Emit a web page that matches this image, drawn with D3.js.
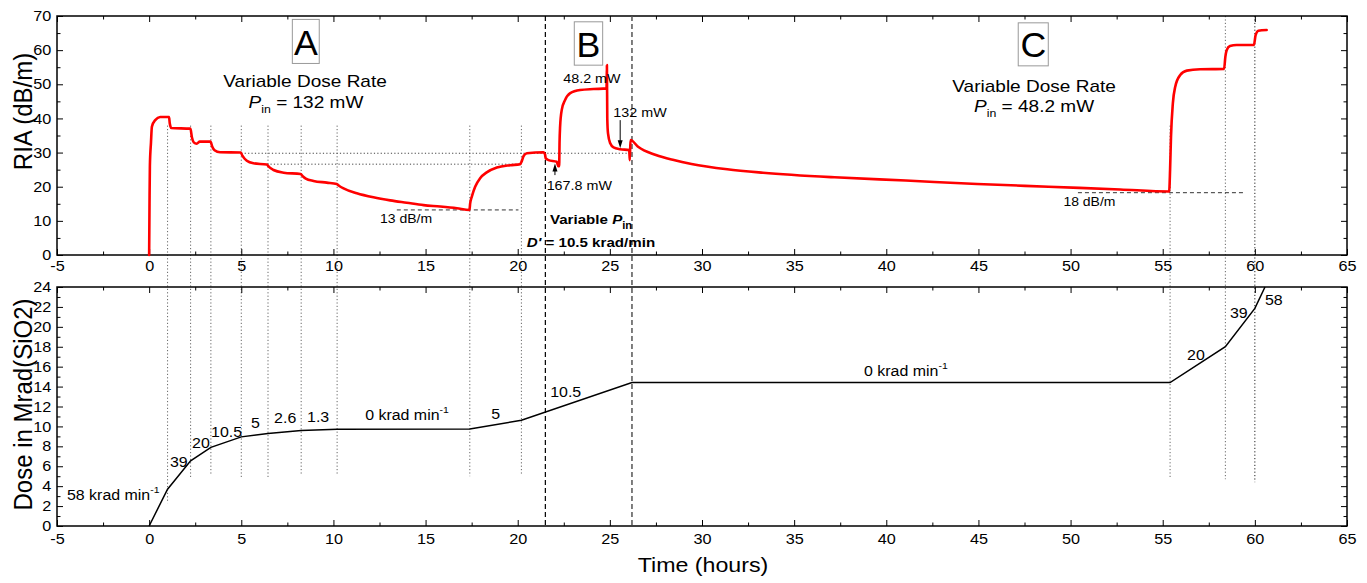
<!DOCTYPE html>
<html><head><meta charset="utf-8">
<script src="https://cdn.jsdelivr.net/npm/d3@7"></script>
<style>
body{margin:0;background:#fff;}
text{font-family:"Liberation Sans",Arial,Helvetica,sans-serif;fill:#000;}
</style>
</head><body>
<svg id="chart" width="1367" height="583"></svg>
<script>
// ---------------- DATA ----------------
const xTicks = [-5,0,5,10,15,20,25,30,35,40,45,50,55,60,65];
const riaTicks = [0,10,20,30,40,50,60,70];
const doseTicks = [0,2,4,6,8,10,12,14,16,18,20,22,24];

// RIA (dB/m) vs time (hours)
const riaTime = [0,0.02,0.04,0.1,0.15,0.33,0.6,1.08,1.12,1.2,2.24,2.32,2.42,2.58,2.75,3.33,3.42,3.55,3.85,4.97,
  5.05,5.3,5.66,6.38,6.5,6.75,7.3,8.22,8.35,8.5,8.92,9.64,10.18,10.3,10.55,11.27,12.17,13.08,13.98,14.89,15.79,16.7,17.38,
  17.42,17.51,17.69,17.96,18.32,18.87,19.59,20.13,20.22,20.32,20.5,21.4,21.48,21.52,21.67,22.12,22.2,22.25,
  22.27,22.3,22.39,22.57,22.85,23.39,24.11,24.82,24.84,24.86,24.9,25.02,25.2,25.56,26.05,26.08,26.12,
  26.53,27.5,28.47,29.43,31.37,33.31,37.19,41.06,44.93,48.81,52.69,55.35,
  55.4,55.45,55.55,55.68,55.95,56.31,57.03,58.33,58.4,58.47,58.65,59.01,59.95,60.04,60.19,60.64];
const riaValue = [0,15,26,33,37.6,39.5,40.4,40.4,38.5,37.2,37.0,34.5,33.0,32.6,33.2,33.2,31.8,30.7,30.1,30.0,
  29.2,27.6,26.85,26.5,25.8,24.9,24.1,23.7,23.0,22.4,21.7,21.2,20.8,20.3,19.5,18.1,16.9,16.0,15.3,14.6,14.2,13.7,13.2,
  15.1,17.1,20.0,22.5,24.2,25.6,26.3,26.6,27.5,29.0,29.8,30.1,29.5,28.3,27.8,27.3,26.0,26.0,
  33,37.6,42.5,45.4,47.4,48.3,48.6,48.8,55.6,40,35.6,32.7,31.5,31.0,30.75,27.8,33.7,
  31.7,29.3,27.8,26.65,25.1,24.1,22.75,21.8,20.8,20.0,19.2,18.6,
  25,34.7,44.4,49.3,52.7,54.0,54.4,54.5,58.1,60.0,61.2,61.5,61.5,64.4,65.7,65.9];

// Accumulated dose (Mrad(SiO2)) vs time (hours)
const doseTime  = [0,1.0,2.25,3.35,5.0,6.45,8.25,10.2,17.4,20.2,26.2,55.4,58.4,60.0,60.55];
const doseValue = [0,3.7,6.55,7.9,8.95,9.3,9.6,9.72,9.75,10.62,14.4,14.4,18.0,21.85,24];

// Dose-rate labels (krad/min) for each segment
const rateText = ["58 krad min","39","20","10.5","5","2.6","1.3","0 krad min","5","10.5","0 krad min","20","39","58"];
const rateSup  = ["-1","","","","","","","-1","","","-1","","",""];

// Times where dose rate changes (dotted guides)
const eventTimes = [1.0,2.25,3.35,5.0,6.45,8.25,10.2,17.4,20.2,55.4,58.4,60.0];
// Input power phases boundaries (dashed)
const phaseTimes = [21.5, 26.2];

// ---------------- LAYOUT ----------------
const S = 1.12; // horizontal text stretch
const svg = d3.select("#chart");
const L = 57, R = 1347;
const T1 = 16, B1 = 255, T2 = 287, B2 = 526;
const x = d3.scaleLinear([-5,65],[L,R]);
const yT = d3.scaleLinear([0,70],[B1,T1]);
const yB = d3.scaleLinear([0,24],[B2,T2]);

const xMinor = d3.range(-2.5, 65, 5);
const riaMinor = d3.range(5, 70, 10);
const doseMinor = d3.range(1, 24, 2);
const plain = d => String(d);

function styleTicks(g, size){
  g.select(".domain").remove();
  g.selectAll(".tick line").attr("stroke","#000").attr("stroke-width",1);
  g.selectAll(".tick text").attr("font-size",size).attr("font-family","Liberation Sans, Arial, sans-serif")
    .attr("transform",`scale(${S},1)`);
}

function panel(y, yMaj, yMin, top, bottom, labelPad){
  const g = svg.append("g");
  g.append("g").attr("transform",`translate(0,${bottom})`)
    .call(d3.axisBottom(x).tickValues(xTicks).tickSizeInner(-6).tickSizeOuter(0).tickPadding(labelPad).tickFormat(plain))
    .call(a=>styleTicks(a,14.5));
  g.append("g").attr("transform",`translate(0,${bottom})`)
    .call(d3.axisBottom(x).tickValues(xMinor).tickSizeInner(-3.5).tickSizeOuter(0).tickFormat(()=>""))
    .call(a=>styleTicks(a,14));
  g.append("g").attr("transform",`translate(0,${top})`)
    .call(d3.axisTop(x).tickValues(xTicks).tickSizeInner(-6).tickSizeOuter(0).tickFormat(()=>""))
    .call(a=>styleTicks(a,14));
  g.append("g").attr("transform",`translate(0,${top})`)
    .call(d3.axisTop(x).tickValues(xMinor).tickSizeInner(-3.5).tickSizeOuter(0).tickFormat(()=>""))
    .call(a=>styleTicks(a,14));
  g.append("g").attr("transform",`translate(${L},0)`)
    .call(d3.axisLeft(y).tickValues(yMaj).tickSizeInner(-6).tickSizeOuter(0).tickPadding(5.2).tickFormat(plain))
    .call(a=>styleTicks(a,14.5));
  g.append("g").attr("transform",`translate(${L},0)`)
    .call(d3.axisLeft(y).tickValues(yMin).tickSizeInner(-3.5).tickSizeOuter(0).tickFormat(()=>""))
    .call(a=>styleTicks(a,14));
  g.append("g").attr("transform",`translate(${R},0)`)
    .call(d3.axisRight(y).tickValues(yMaj).tickSizeInner(-6).tickSizeOuter(0).tickFormat(()=>""))
    .call(a=>styleTicks(a,14));
  g.append("g").attr("transform",`translate(${R},0)`)
    .call(d3.axisRight(y).tickValues(yMin).tickSizeInner(-3.5).tickSizeOuter(0).tickFormat(()=>""))
    .call(a=>styleTicks(a,14));
  g.append("rect").attr("x",L).attr("y",top).attr("width",R-L).attr("height",bottom-top)
    .attr("fill","none").attr("stroke","#000").attr("stroke-width",1.5);
}

// text helper
function txt(px, py, parts, o={}){
  const t = svg.append("text")
    .attr("transform",`translate(${px},${py}) scale(${o.sx||S},1)`)
    .attr("text-anchor",o.anchor||"start")
    .attr("font-size",o.size||14)
    .attr("font-weight",o.weight||"normal");
  parts.forEach(p=>{
    const ts = t.append("tspan").text(p.t);
    if(p.italic) ts.attr("font-style","italic");
    if(p.size) ts.attr("font-size",p.size);
    if(p.dy) ts.attr("dy",p.dy);
  });
  return t;
}

// ---------------- GUIDE LINES ----------------
const guides = svg.append("g");
const eventTop = [37.9,37.9,37.9,37.9,37.9,37.9,37.9,37.9,37.9,37.9,70,70];
const eventBottom = [2.3,4.9,5.1,4.9,4.9,5.1,5.1,5.0,5.1,4.8,4.7,4.4];
eventTimes.forEach((t,i)=>{
  guides.append("line").attr("x1",x(t)).attr("x2",x(t))
    .attr("y1",yT(eventTop[i])).attr("y2",yB(eventBottom[i]))
    .attr("stroke", t===60.0 ? "#222" : "#666").attr("stroke-width",1).attr("stroke-dasharray","1.2,2.2");
});
// horizontal dotted references
guides.append("line").attr("x1",x(5.0)).attr("x2",x(26.2)).attr("y1",yT(29.8)).attr("y2",yT(29.8))
  .attr("stroke","#444").attr("stroke-width",1).attr("stroke-dasharray","1.2,2.2");
guides.append("line").attr("x1",x(6.4)).attr("x2",x(20.2)).attr("y1",yT(26.6)).attr("y2",yT(26.6))
  .attr("stroke","#444").attr("stroke-width",1).attr("stroke-dasharray","1.2,2.2");
// dashed horizontal minima
guides.append("line").attr("x1",x(13.44)).attr("x2",x(20.04)).attr("y1",yT(13.2)).attr("y2",yT(13.2))
  .attr("stroke","#333").attr("stroke-width",1).attr("stroke-dasharray","4,3");
guides.append("line").attr("x1",x(50.4)).attr("x2",x(59.45)).attr("y1",yT(18.25)).attr("y2",yT(18.25))
  .attr("stroke","#333").attr("stroke-width",1).attr("stroke-dasharray","4,3");

// ---------------- PANELS ----------------
panel(yT, riaTicks, riaMinor, T1, B1, 6);
panel(yB, doseTicks, doseMinor, T2, B2, 8);

// phase dashed lines spanning both panels
phaseTimes.forEach((t,i)=>{
  svg.append("line").attr("x1",x(t)).attr("x2",x(t)).attr("y1",T1).attr("y2",B2)
    .attr("stroke", i===0 ? "#000" : "#555").attr("stroke-width", i===0 ? 1.2 : 1.5)
    .attr("stroke-dasharray","5,3");
});

// ---------------- DATA LINES ----------------
const riaPts = riaTime.map((t,i)=>[t, riaValue[i]]);
svg.append("path").datum(riaPts)
  .attr("d", d3.line().x(d=>x(d[0])).y(d=>yT(d[1])).curve(d3.curveMonotoneX))
  .attr("fill","none").attr("stroke","#ff0000").attr("stroke-width",2.6)
  .attr("stroke-linejoin","round").attr("stroke-linecap","round");

const dosePts = doseTime.map((t,i)=>[t, doseValue[i]]);
svg.append("path").datum(dosePts)
  .attr("d", d3.line().x(d=>x(d[0])).y(d=>yB(d[1])))
  .attr("fill","none").attr("stroke","#000").attr("stroke-width",1.5);

// ---------------- ANNOTATIONS (top) ----------------
function box(t0,t1,v0,v1,letter,tc,vb){
  svg.append("rect").attr("x",x(t0)).attr("y",yT(v0)).attr("width",x(t1)-x(t0)).attr("height",yT(v1)-yT(v0))
    .attr("fill","none").attr("stroke","#999").attr("stroke-width",1);
  txt(x(tc), yT(vb), [{t:letter}], {anchor:"middle", size:35, sx:1.02});
}
box(7.77,9.23,69.0,56.1,"A",8.5,58.6);
box(23.07,24.61,68.3,55.6,"B",23.84,58.1);
box(47.16,48.79,68.0,55.4,"C",47.98,57.9);

txt(x(8.46), yT(49.1), [{t:"Variable Dose Rate"}], {anchor:"middle", size:17});
txt(x(8.51), yT(43.0), [{t:"P",italic:true},{t:"in",size:11,dy:5},{t:" = 132 mW",dy:-5}], {anchor:"middle", size:17});
txt(x(48.02), yT(47.8), [{t:"Variable Dose Rate"}], {anchor:"middle", size:17});
txt(x(48.02), yT(42.0), [{t:"P",italic:true},{t:"in",size:11,dy:5},{t:" = 48.2 mW",dy:-5}], {anchor:"middle", size:17});

txt(x(22.47), yT(50.3), [{t:"48.2 mW"}], {size:12.8});
txt(x(25.19), yT(40.5), [{t:"132 mW"}], {size:12.8});
txt(x(21.57), yT(19.0), [{t:"167.8 mW"}], {size:12.8});
txt(x(12.53), yT(9.3), [{t:"13 dB/m"}], {size:12.5});
txt(x(49.61), yT(14.35), [{t:"18 dB/m"}], {size:12.5});
txt(x(21.75), yT(9.1), [{t:"Variable "},{t:"P",italic:true},{t:"in",size:10,dy:5}], {size:13.5, weight:"bold"});
txt(x(20.49), yT(2.43), [{t:"D'",italic:true},{t:" = 10.5 krad/min"}], {size:13.5, weight:"bold"});

function arrow(t, vFrom, vTo){
  const xp = x(t), y0 = yT(vFrom), y1 = yT(vTo);
  const dir = Math.sign(y1-y0);
  svg.append("line").attr("x1",xp).attr("x2",xp).attr("y1",y0).attr("y2",y1-dir*6)
    .attr("stroke","#000").attr("stroke-width",1);
  svg.append("path").attr("d",`M${xp-2.5},${y1-dir*8}L${xp+2.5},${y1-dir*8}L${xp},${y1}Z`).attr("fill","#000");
}
arrow(25.56, 39.5, 31.25);
arrow(22.02, 23.4, 26.8);

// ---------------- ANNOTATIONS (bottom) ----------------
const rateAt = [[-4.46,2.61],[1.13,5.95],[2.33,7.83],[3.36,8.97],[5.53,9.84],[6.78,10.34],[8.57,10.47],
  [11.72,10.64],[18.56,10.75],[21.76,12.98],[38.79,15.06],[56.32,16.67],[58.65,20.89],[60.55,22.19]];
rateText.forEach((s,i)=>{
  const parts = [{t:s}];
  if(rateSup[i]) parts.push({t:rateSup[i], size:9.5, dy:-7});
  txt(x(rateAt[i][0]), yB(rateAt[i][1]), parts, {size:14.5, sx:1.1});
});

// ---------------- AXIS TITLES ----------------
svg.append("text").attr("transform",`translate(31.5,111.5) scale(1.1,1) rotate(-90)`)
  .attr("text-anchor","middle").attr("font-size",24).text("RIA (dB/m)");
svg.append("text").attr("transform",`translate(31.5,404.5) scale(1.1,1) rotate(-90)`)
  .attr("text-anchor","middle").attr("font-size",24).text("Dose in Mrad(SiO2)");
svg.append("text").attr("transform",`translate(${(L+R)/2 + 1},571.5) scale(1.16,1)`)
  .attr("text-anchor","middle").attr("font-size",20).text("Time (hours)");
</script>
</body></html>
